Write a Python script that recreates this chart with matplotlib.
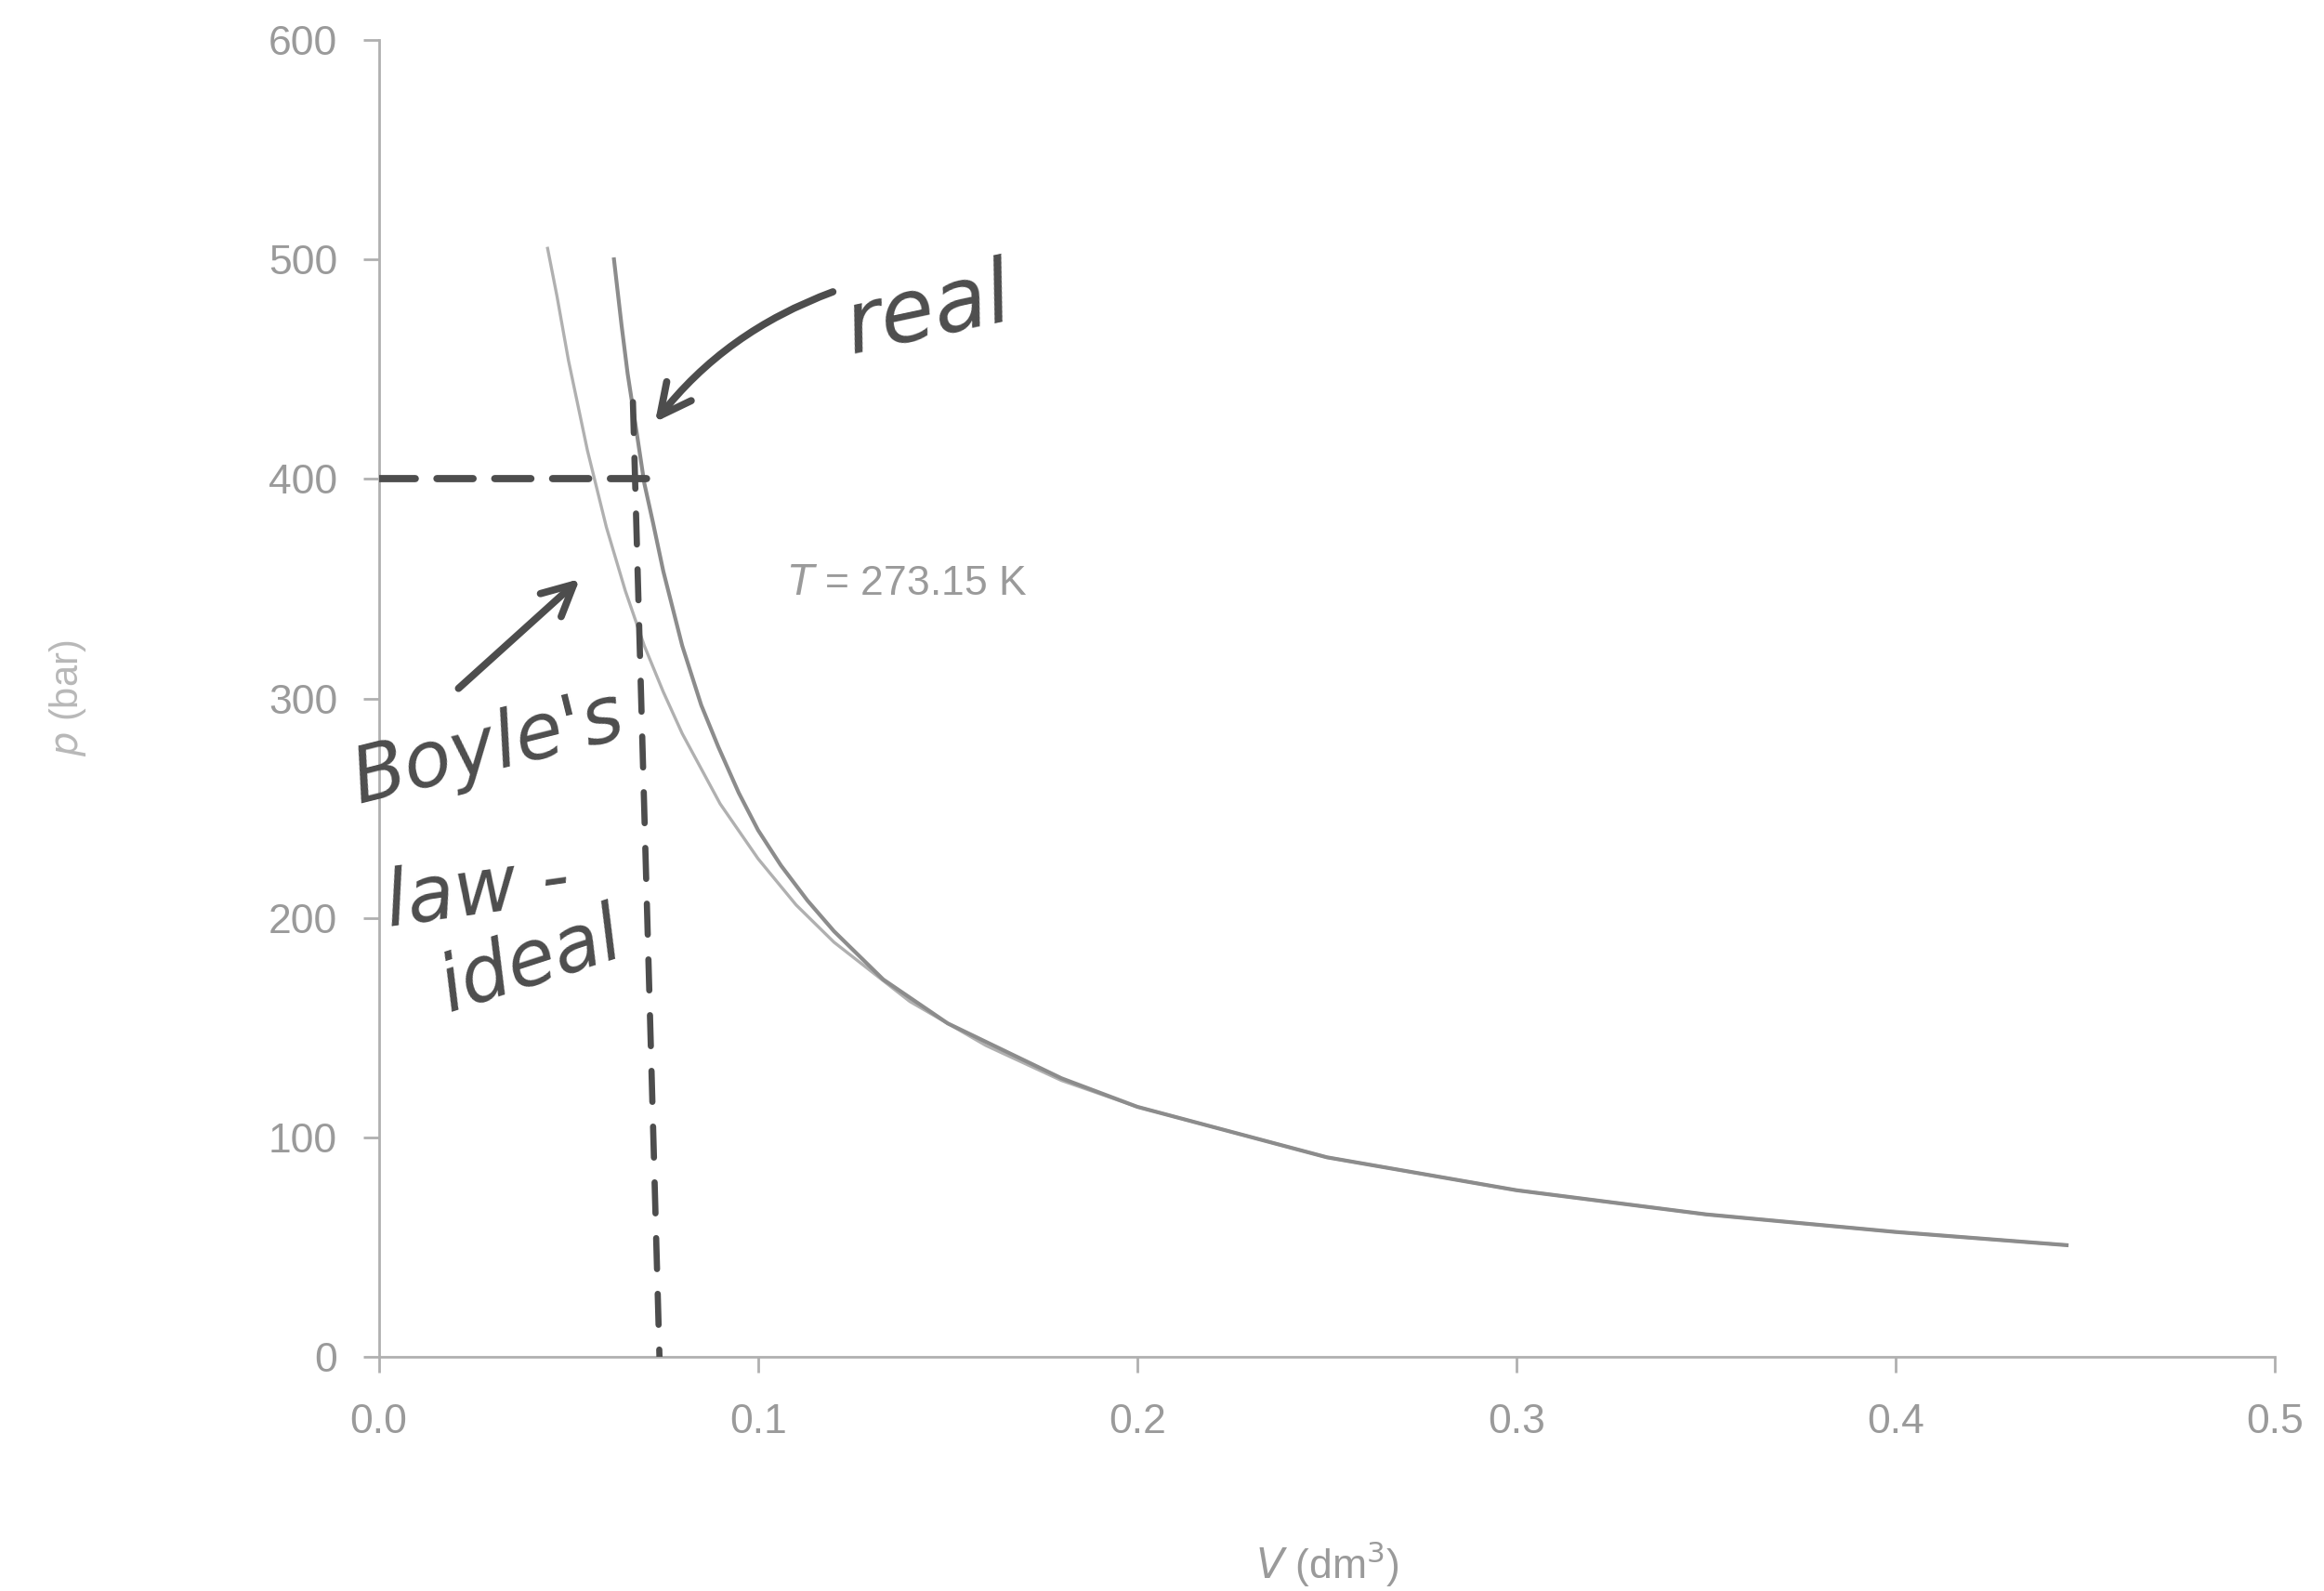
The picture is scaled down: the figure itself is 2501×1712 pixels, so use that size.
import matplotlib
matplotlib.use("Agg")
import matplotlib.pyplot as plt

# values (V in dm3, p in bar)
ideal_v = [0.0445, 0.047, 0.05, 0.055, 0.06, 0.065, 0.07, 0.075, 0.08, 0.09,
           0.10, 0.11, 0.12, 0.14, 0.16, 0.18, 0.20, 0.25, 0.30, 0.35, 0.40,
           0.445]
ideal_p = [505, 483, 454, 413, 378, 349, 324, 303, 284, 252,
           227, 206, 189, 162, 142, 126, 114, 91, 76, 65, 57,
           51]

real_v = [0.062, 0.064, 0.0656, 0.068, 0.070, 0.0723, 0.075, 0.080, 0.085,
          0.0895, 0.0949, 0.10, 0.106, 0.113, 0.12, 0.133, 0.15, 0.18, 0.20,
          0.25, 0.30, 0.35, 0.40, 0.445]
real_p = [500, 470, 448, 421, 398, 380, 358, 324, 297,
          278, 257, 240, 224, 208, 194, 172, 152, 127, 114,
          91, 76, 65, 57, 51]

# hand-drawn guide lines
guide_h_v = [0.0, 0.074]
guide_h_p = [400, 400]
guide_v_v = [0.067, 0.074]
guide_v_p = [435, 0]

x_ticks = [0.0, 0.1, 0.2, 0.3, 0.4, 0.5]
x_tick_labels = ["0.0", "0.1", "0.2", "0.3", "0.4", "0.5"]
y_ticks = [0, 100, 200, 300, 400, 500, 600]

print_grey = "#9a9a9a"
ink = "#4d4d4d"
plt.rcParams["font.family"] = ["Liberation Sans", "DejaVu Sans"]

fig = plt.figure(figsize=(12.505, 8.56), dpi=200)
ax = fig.add_axes([0.163, 0.147, 0.816, 0.828])

ax.plot(ideal_v, ideal_p, color="#b0b0b0", lw=1.2, zorder=2)
ax.plot(real_v, real_p, color="#8c8c8c", lw=1.5, zorder=2)

ax.plot(guide_h_v, guide_h_p, color=ink, lw=2.8, ls=(0, (5, 3)),
        dash_capstyle="round", zorder=3)
ax.plot(guide_v_v, guide_v_p, color=ink, lw=2.4, ls=(0, (5, 4)),
        dash_capstyle="round", zorder=3)

ax.set_xlim(0, 0.5)
ax.set_ylim(0, 600)
ax.set_xticks(x_ticks)
ax.set_xticklabels(x_tick_labels)
ax.set_yticks(y_ticks)

for side in ("top", "right"):
    ax.spines[side].set_visible(False)
for side in ("left", "bottom"):
    ax.spines[side].set_color("#b0b0b0")
    ax.spines[side].set_linewidth(1.0)

ax.tick_params(axis="both", colors="#b0b0b0", labelcolor=print_grey,
               labelsize=16, length=6, width=1.0, direction="out")
ax.tick_params(axis="x", pad=12)
ax.tick_params(axis="y", pad=10)

ax.set_xlabel(r"$V$ (dm$^3$)", color=print_grey, fontsize=16, labelpad=38)
ax.set_ylabel(r"$p$ (bar)", color="#b8b8b8", fontsize=15, labelpad=70)

ax.text(0.108, 352, r"$T$ = 273.15 K", color=print_grey, fontsize=16,
        va="center", ha="left")

# handwritten notes
hand = dict(color=ink, family="DejaVu Sans", style="italic")
ax.text(0.145, 476, "real", fontsize=34, rotation=12, ha="center",
        va="center", **hand)
ax.annotate("", xy=(0.072, 424), xytext=(0.121, 486),
            arrowprops=dict(arrowstyle="->", color=ink, lw=2.8,
                            mutation_scale=30,
                            connectionstyle="arc3,rad=0.15"))
ax.text(0.029, 277, "Boyle's", fontsize=30, rotation=14, ha="center",
        va="center", **hand)
ax.text(0.026, 212, "law -", fontsize=30, rotation=8, ha="center",
        va="center", **hand)
ax.text(0.040, 180, "ideal", fontsize=30, rotation=18, ha="center",
        va="center", **hand)
ax.annotate("", xy=(0.054, 356), xytext=(0.020, 303),
            arrowprops=dict(arrowstyle="->", color=ink, lw=2.8,
                            mutation_scale=30))

fig.savefig("out.png", dpi=200, facecolor="white")
